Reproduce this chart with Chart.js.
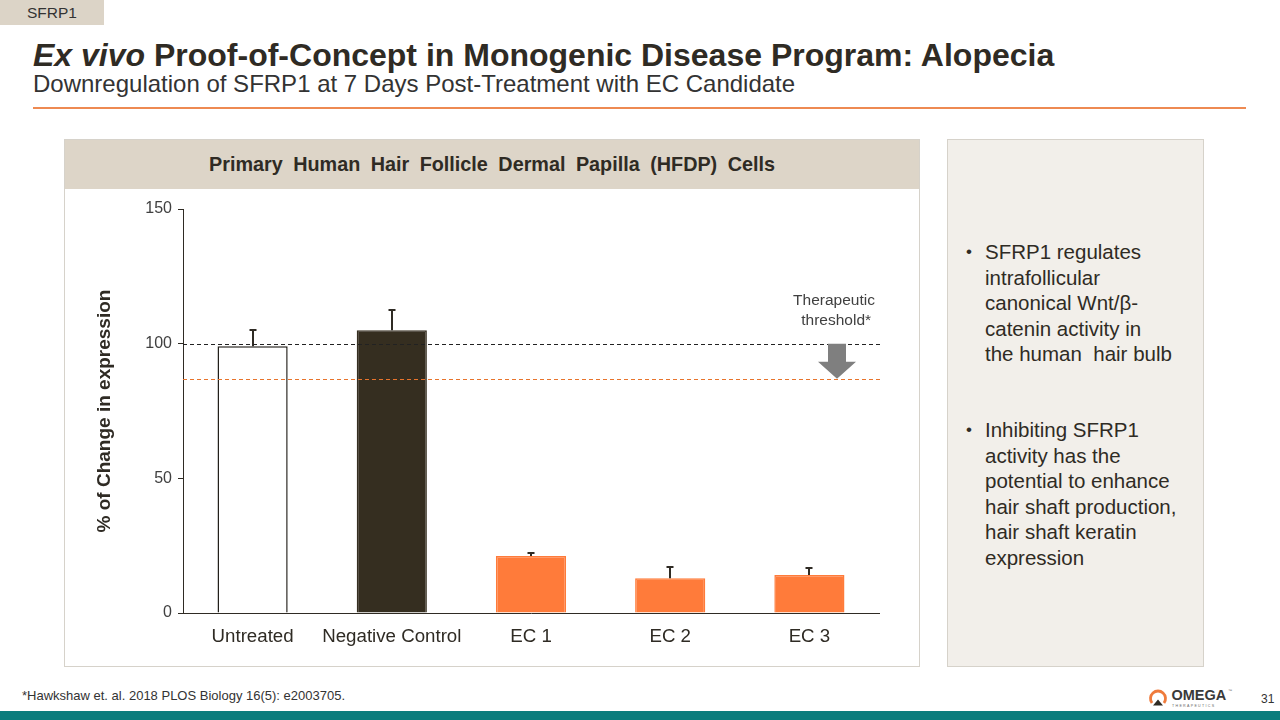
<!DOCTYPE html>
<html><head><meta charset="utf-8">
<script src="https://cdn.jsdelivr.net/npm/chart.js@4/dist/chart.umd.min.js"></script>
<style>
html,body{margin:0;padding:0;width:1280px;height:720px;overflow:hidden;background:#fff;font-family:"Liberation Sans",Arial,sans-serif;color:#2f2b24;}
.abs{position:absolute;}
#tag{left:0;top:0;width:104px;height:25px;background:#dcd4c7;font-size:15.5px;line-height:26px;text-align:center;color:#333;}
#title{left:33px;top:39px;font-size:32px;line-height:1;font-weight:bold;white-space:nowrap;}
#sub{left:33px;top:72px;font-size:24px;line-height:1;white-space:nowrap;color:#333;}
#rule{left:33px;top:107px;width:1213px;height:2px;background:#ee8a52;}
#panel{left:64px;top:139px;width:854px;height:526px;border:1px solid #d6d2ca;}
#band{left:65px;top:140px;width:854px;height:49px;background:#ddd5c8;font-size:19.8px;font-weight:bold;text-align:center;line-height:49px;color:#2f2b24;word-spacing:5px;}
#cwrap{left:64px;top:189px;width:855px;height:477px;}
#thr{left:774px;top:290px;width:120px;text-align:center;font-size:15.5px;line-height:20px;color:#404040;}
#side{left:947px;top:139px;width:255px;height:526px;background:#f2efea;border:1px solid #d6d2ca;}
ul{margin:0;padding:0;list-style:none;}
li{position:relative;padding-left:37px;font-size:20.5px;line-height:25.6px;color:#2f2b24;white-space:nowrap;}
li:before{content:"\2022";position:absolute;left:18px;top:0;font-size:17px;}
#foot{left:22px;top:688px;font-size:13px;color:#333;}
#pg{left:1261px;top:692px;font-size:12px;color:#333;}
#band2{left:0;top:711px;width:1280px;height:9px;background:#0b7d7d;}
#logo{left:1148px;top:686px;width:90px;height:22px;}
</style></head><body>
<div id="tag" class="abs">SFRP1</div>
<div id="title" class="abs"><i>Ex vivo</i> Proof-of-Concept in Monogenic Disease Program: Alopecia</div>
<div id="sub" class="abs">Downregulation of SFRP1 at 7 Days Post-Treatment with EC Candidate</div>
<div id="rule" class="abs"></div>
<div id="panel" class="abs"></div>
<div id="band" class="abs">Primary Human Hair Follicle Dermal Papilla (HFDP) Cells</div>
<div id="cwrap" class="abs"><canvas id="c" width="855" height="477"></canvas></div>
<div id="thr" class="abs">Therapeutic<br>&nbsp;threshold*</div>
<div id="side" class="abs">
 <ul style="position:absolute;top:99px;left:0;width:250px;">
  <li>SFRP1 regulates<br>intrafollicular<br>canonical Wnt/β-<br>catenin activity in<br>the human&nbsp; hair bulb</li>
 </ul>
 <ul style="position:absolute;top:277px;left:0;width:250px;">
  <li>Inhibiting SFRP1<br>activity has the<br>potential to enhance<br>hair shaft production,<br>hair shaft keratin<br>expression</li>
 </ul>
</div>
<div id="foot" class="abs">*Hawkshaw et. al. 2018 PLOS Biology 16(5): e2003705.</div>
<div id="pg" class="abs">31</div>
<svg id="logo" class="abs" viewBox="0 0 90 22">
 <path d="M4 17 A7.5 7.5 0 1 1 16 17" fill="none" stroke="#ef7b3c" stroke-width="2.8"/>
 <path d="M5 19.5 L10 13.5 L15 19.5 Z" fill="#2f2b24"/>
 <text x="23.5" y="14" font-family="Liberation Sans, Arial" font-weight="bold" font-size="14.5" fill="#3a3a3a">OMEGA</text>
 <text x="24" y="20.5" font-family="Liberation Sans, Arial" font-size="3.6" letter-spacing="1.3" fill="#666">THERAPEUTICS</text>
 <text x="80" y="6" font-family="Liberation Sans, Arial" font-size="4" fill="#666">™</text>
</svg>
<div id="band2" class="abs"></div>
<script>
const categories = ["Untreated", "Negative Control", "EC 1", "EC 2", "EC 3"];
const values = [99, 105, 21.2, 12.9, 14.1];
const errors = [6.1, 7.5, 1.2, 4.3, 2.7];
const barColors = ["#ffffff", "#352e20", "#ff7b3a", "#ff7b3a", "#ff7b3a"];
const borderColors = ["#221f1a", "#352e20", "#ff7b3a", "#ff7b3a", "#ff7b3a"];
const yTicks = [0, 50, 100, 150];
const referenceLine = 100;
const thresholdLine = 87;

const overlay = {
  id: 'overlay',
  afterDatasetsDraw(chart) {
    const ctx = chart.ctx, y = chart.scales.y, area = chart.chartArea;
    const meta = chart.getDatasetMeta(0);
    ctx.save();
    ctx.strokeStyle = '#2f2b24'; ctx.lineWidth = 2;
    meta.data.forEach((bar, i) => {
      const top = y.getPixelForValue(values[i]);
      const eTop = Math.round(y.getPixelForValue(values[i] + errors[i]));
      const bx = Math.round(bar.x);
      ctx.beginPath();
      ctx.moveTo(bx, top); ctx.lineTo(bx, eTop);
      ctx.moveTo(bx - 3.5, eTop); ctx.lineTo(bx + 3.5, eTop);
      ctx.stroke();
    });
    const xEnd = area.right + 4;
    ctx.lineWidth = 1; ctx.setLineDash([4, 3]);
    ctx.strokeStyle = '#222';
    let py = Math.round(y.getPixelForValue(referenceLine)) + 0.5;
    ctx.beginPath(); ctx.moveTo(area.left, py); ctx.lineTo(xEnd, py); ctx.stroke();
    ctx.strokeStyle = '#e8742c';
    let py2 = Math.round(y.getPixelForValue(thresholdLine)) + 0.5;
    ctx.beginPath(); ctx.moveTo(area.left, py2); ctx.lineTo(xEnd, py2); ctx.stroke();
    ctx.setLineDash([]);
    const cx = area.right - 42;
    const yA = y.getPixelForValue(referenceLine), yB = y.getPixelForValue(thresholdLine);
    const headTop = yA + (yB - yA) * 0.52;
    ctx.fillStyle = '#7f7f7f';
    ctx.beginPath();
    ctx.moveTo(cx - 9, yA); ctx.lineTo(cx + 9, yA); ctx.lineTo(cx + 9, headTop);
    ctx.lineTo(cx + 19, headTop); ctx.lineTo(cx, yB); ctx.lineTo(cx - 19, headTop);
    ctx.lineTo(cx - 9, headTop); ctx.closePath(); ctx.fill();
    ctx.restore();
  }
};

new Chart(document.getElementById('c'), {
  type: 'bar',
  data: { labels: categories, datasets: [{ data: values, backgroundColor: barColors, borderColor: borderColors, borderWidth: 1.5, barPercentage: 0.504, categoryPercentage: 1.0 }] },
  options: {
    responsive: false, animation: false,
    layout: { padding: { top: 20, right: 40, left: 0, bottom: 0 } },
    plugins: { legend: { display: false }, tooltip: { enabled: false } },
    scales: {
      x: {
        grid: { display: false },
        border: { display: true, color: '#2f2b24', width: 1 },
        ticks: { color: '#2f2b24', font: { family: 'Liberation Sans, Arial', size: 18.7 }, padding: 5, maxRotation: 0, autoSkip: false },
        afterFit(s) { s.height = 53; }
      },
      y: {
        min: 0, max: 150,
        afterBuildTicks(s) { s.ticks = yTicks.map(v => ({ value: v })); },
        grid: { drawOnChartArea: false, drawTicks: true, tickLength: 5, color: '#2f2b24' },
        border: { display: true, color: '#2f2b24', width: 1 },
        ticks: { color: '#404040', font: { family: 'Liberation Sans, Arial', size: 16 }, padding: 6 },
        title: { display: true, text: '% of Change in expression', color: '#2f2b24', font: { family: 'Liberation Sans, Arial', size: 19, weight: 'bold' }, padding: { top: 29, bottom: 0 } },
        afterFit(s) { s.width = 119; }
      }
    }
  },
  plugins: [overlay]
});
</script>
</body></html>
